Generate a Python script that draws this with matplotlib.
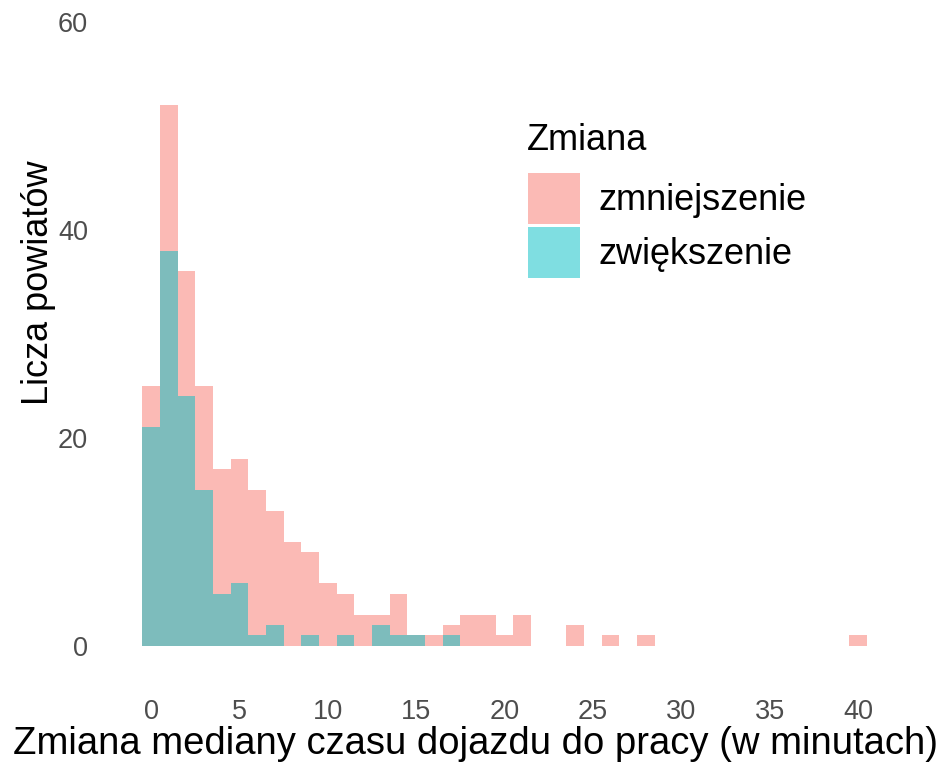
import matplotlib
matplotlib.use("Agg")
import matplotlib.pyplot as plt
from matplotlib.patches import Patch

plt.rcParams["font.family"] = ["Liberation Sans", "DejaVu Sans"]

# histogram counts, bins of width 1 centred on whole minutes 0..40
bins = list(range(41))
zmniejszenie = [25, 52, 36, 25, 17, 18, 15, 13, 10, 9, 6, 5, 3, 3, 5, 1, 1, 2, 3, 3,
                1, 3, 0, 0, 2, 0, 1, 0, 1, 0, 0, 0, 0, 0, 0, 0, 0, 0, 0, 0, 1]
zwiekszenie = [21, 38, 24, 15, 5, 6, 1, 2, 0, 1, 0, 1, 0, 2, 1, 1, 0, 1, 0, 0,
               0, 0, 0, 0, 0, 0, 0, 0, 0, 0, 0, 0, 0, 0, 0, 0, 0, 0, 0, 0, 0]
labels = ["zmniejszenie", "zwiększenie"]
colors = ["#F8766D", "#00BFC4"]

fig = plt.figure(figsize=(9.42, 7.68), dpi=100)
ax = fig.add_axes([106 / 942, 91 / 768, 797 / 942, 677 / 768])

ax.bar(bins, zmniejszenie, width=1.0, color=colors[0], alpha=0.5, linewidth=0)
ax.bar(bins, zwiekszenie, width=1.0, color=colors[1], alpha=0.5, linewidth=0)

ax.set_xlim(-2.55, 42.55)
ax.set_ylim(-3, 62.1)
ax.set_xticks(range(0, 41, 5))
ax.set_yticks([0, 20, 40, 60])
for s in ax.spines.values():
    s.set_visible(False)
ax.tick_params(length=0, labelsize=19.5, labelcolor="#4D4D4D")
ax.tick_params(axis="y", pad=13)
ax.tick_params(axis="x", pad=16)

ax.set_xlabel("Zmiana mediany czasu dojazdu do pracy (w minutach)", fontsize=27.5)
ax.set_ylabel("Licza powiatów", fontsize=26)
ax.xaxis.set_label_coords(0.463, -0.072)
ax.yaxis.set_label_coords(-0.063, 0.582)

# legend: title as separate text, keys below
fig.text(527 / 942, 1 - 140 / 768, "Zmiana", fontsize=26, va="center", ha="left")
handles = [Patch(facecolor=c, alpha=0.5, linewidth=0) for c in colors]
fig.legend(handles, labels, loc="upper left",
           bbox_to_anchor=(528 / 942, 1 - 173 / 768), frameon=False,
           fontsize=26, handlelength=1.44, handleheight=1.79,
           handletextpad=0.5, labelspacing=0.08, borderpad=0, borderaxespad=0)

fig.savefig("out.png", dpi=100)
